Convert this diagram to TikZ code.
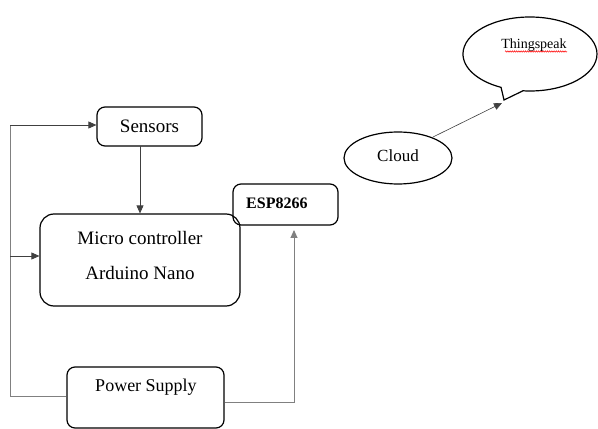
\documentclass[tikz,border=0pt]{standalone}
\usepackage{fontspec}
\setmainfont{Liberation Serif}
\usetikzlibrary{arrows.meta,shapes.geometric,decorations.pathmorphing,calc}
\begin{document}
\begin{tikzpicture}[x=1pt,y=1pt,
  boxst/.style={draw=black,line width=1.2pt,rectangle,rounded corners=8pt,inner sep=0pt},
  ellst/.style={draw=black,line width=1.2pt,ellipse,inner sep=0pt},
  conn/.style={draw=black!75,line width=0.8pt},
  gconn/.style={draw=black!50,line width=0.9pt},
  tip/.style={-{Triangle[length=8pt,width=7pt]}},
  lbl/.style={inner sep=0pt,font=\fontsize{18}{20}\selectfont}]
\useasboundingbox (0,0) rectangle (598,429);
% boxes
\node[boxst,minimum width=105pt,minimum height=39pt] (sens) at (149.5,302.5) {};
\node[lbl,font=\fontsize{19}{21}\selectfont] (senst) at (149.5,303) {Sensors};
\node[boxst,rounded corners=14pt,minimum width=200pt,minimum height=92pt] (micro) at (140,169) {};
\node[lbl,font=\fontsize{19}{21}\selectfont] (microa) at (140,191) {Micro controller};
\node[lbl,font=\fontsize{19}{21}\selectfont] (microb) at (140,156) {Arduino Nano};
\node[boxst,minimum width=105pt,minimum height=41pt] (esp) at (285.5,224.5) {};
\node[lbl,font=\bfseries\fontsize{16}{18}\selectfont,anchor=west] (espt) at (246,226) {ESP8266};
\node[boxst,minimum width=157pt,minimum height=61pt] (pow) at (145.5,31.5) {};
\node[lbl,font=\fontsize{18}{20}\selectfont] (powt) at (146,42) {Power Supply};
\node[ellst,minimum width=108pt,minimum height=52pt] (cloud) at (398,271) {};
\node[lbl,font=\fontsize{17}{19}\selectfont] (cloudt) at (398,273) {Cloud};
% callout
\coordinate (ts) at (530,375);
\coordinate (tstip) at (504,329);
\draw[line width=1.2pt,line join=miter] (tstip) -- ($(ts)+(264:67 and 37)$) arc[start angle=264,end angle=604.4,x radius=67,y radius=37] -- cycle;
\node[lbl,font=\fontsize{14}{16}\selectfont] (tst) at (534,384) {Thingspeak};
\draw[red,line width=0.5pt,decorate,decoration={snake,amplitude=0.7pt,segment length=2.2pt}] (505,377.5) -- (567,377.5);
% connectors
\coordinate (lt) at (10,304);
\coordinate (lm) at (10,173);
\coordinate (lb) at (10,33);
\coordinate (rb) at (294,27);
\coordinate (rt) at (294,199);
\draw[gconn] (pow.west |- lb) -- (lb) -- (lt);
\draw[conn,tip] (lt) -- (sens.west |- lt);
\draw[conn,tip] (lm) -- (micro.west |- lm);
\draw[conn,tip] (140,283) -- (micro.north -| 140,0);
\draw[gconn,tip] (pow.east |- rb) -- (rb) -- (rt);
\draw[conn,line width=0.6pt,tip] (433,292) -- (502,326);
\end{tikzpicture}
\end{document}
